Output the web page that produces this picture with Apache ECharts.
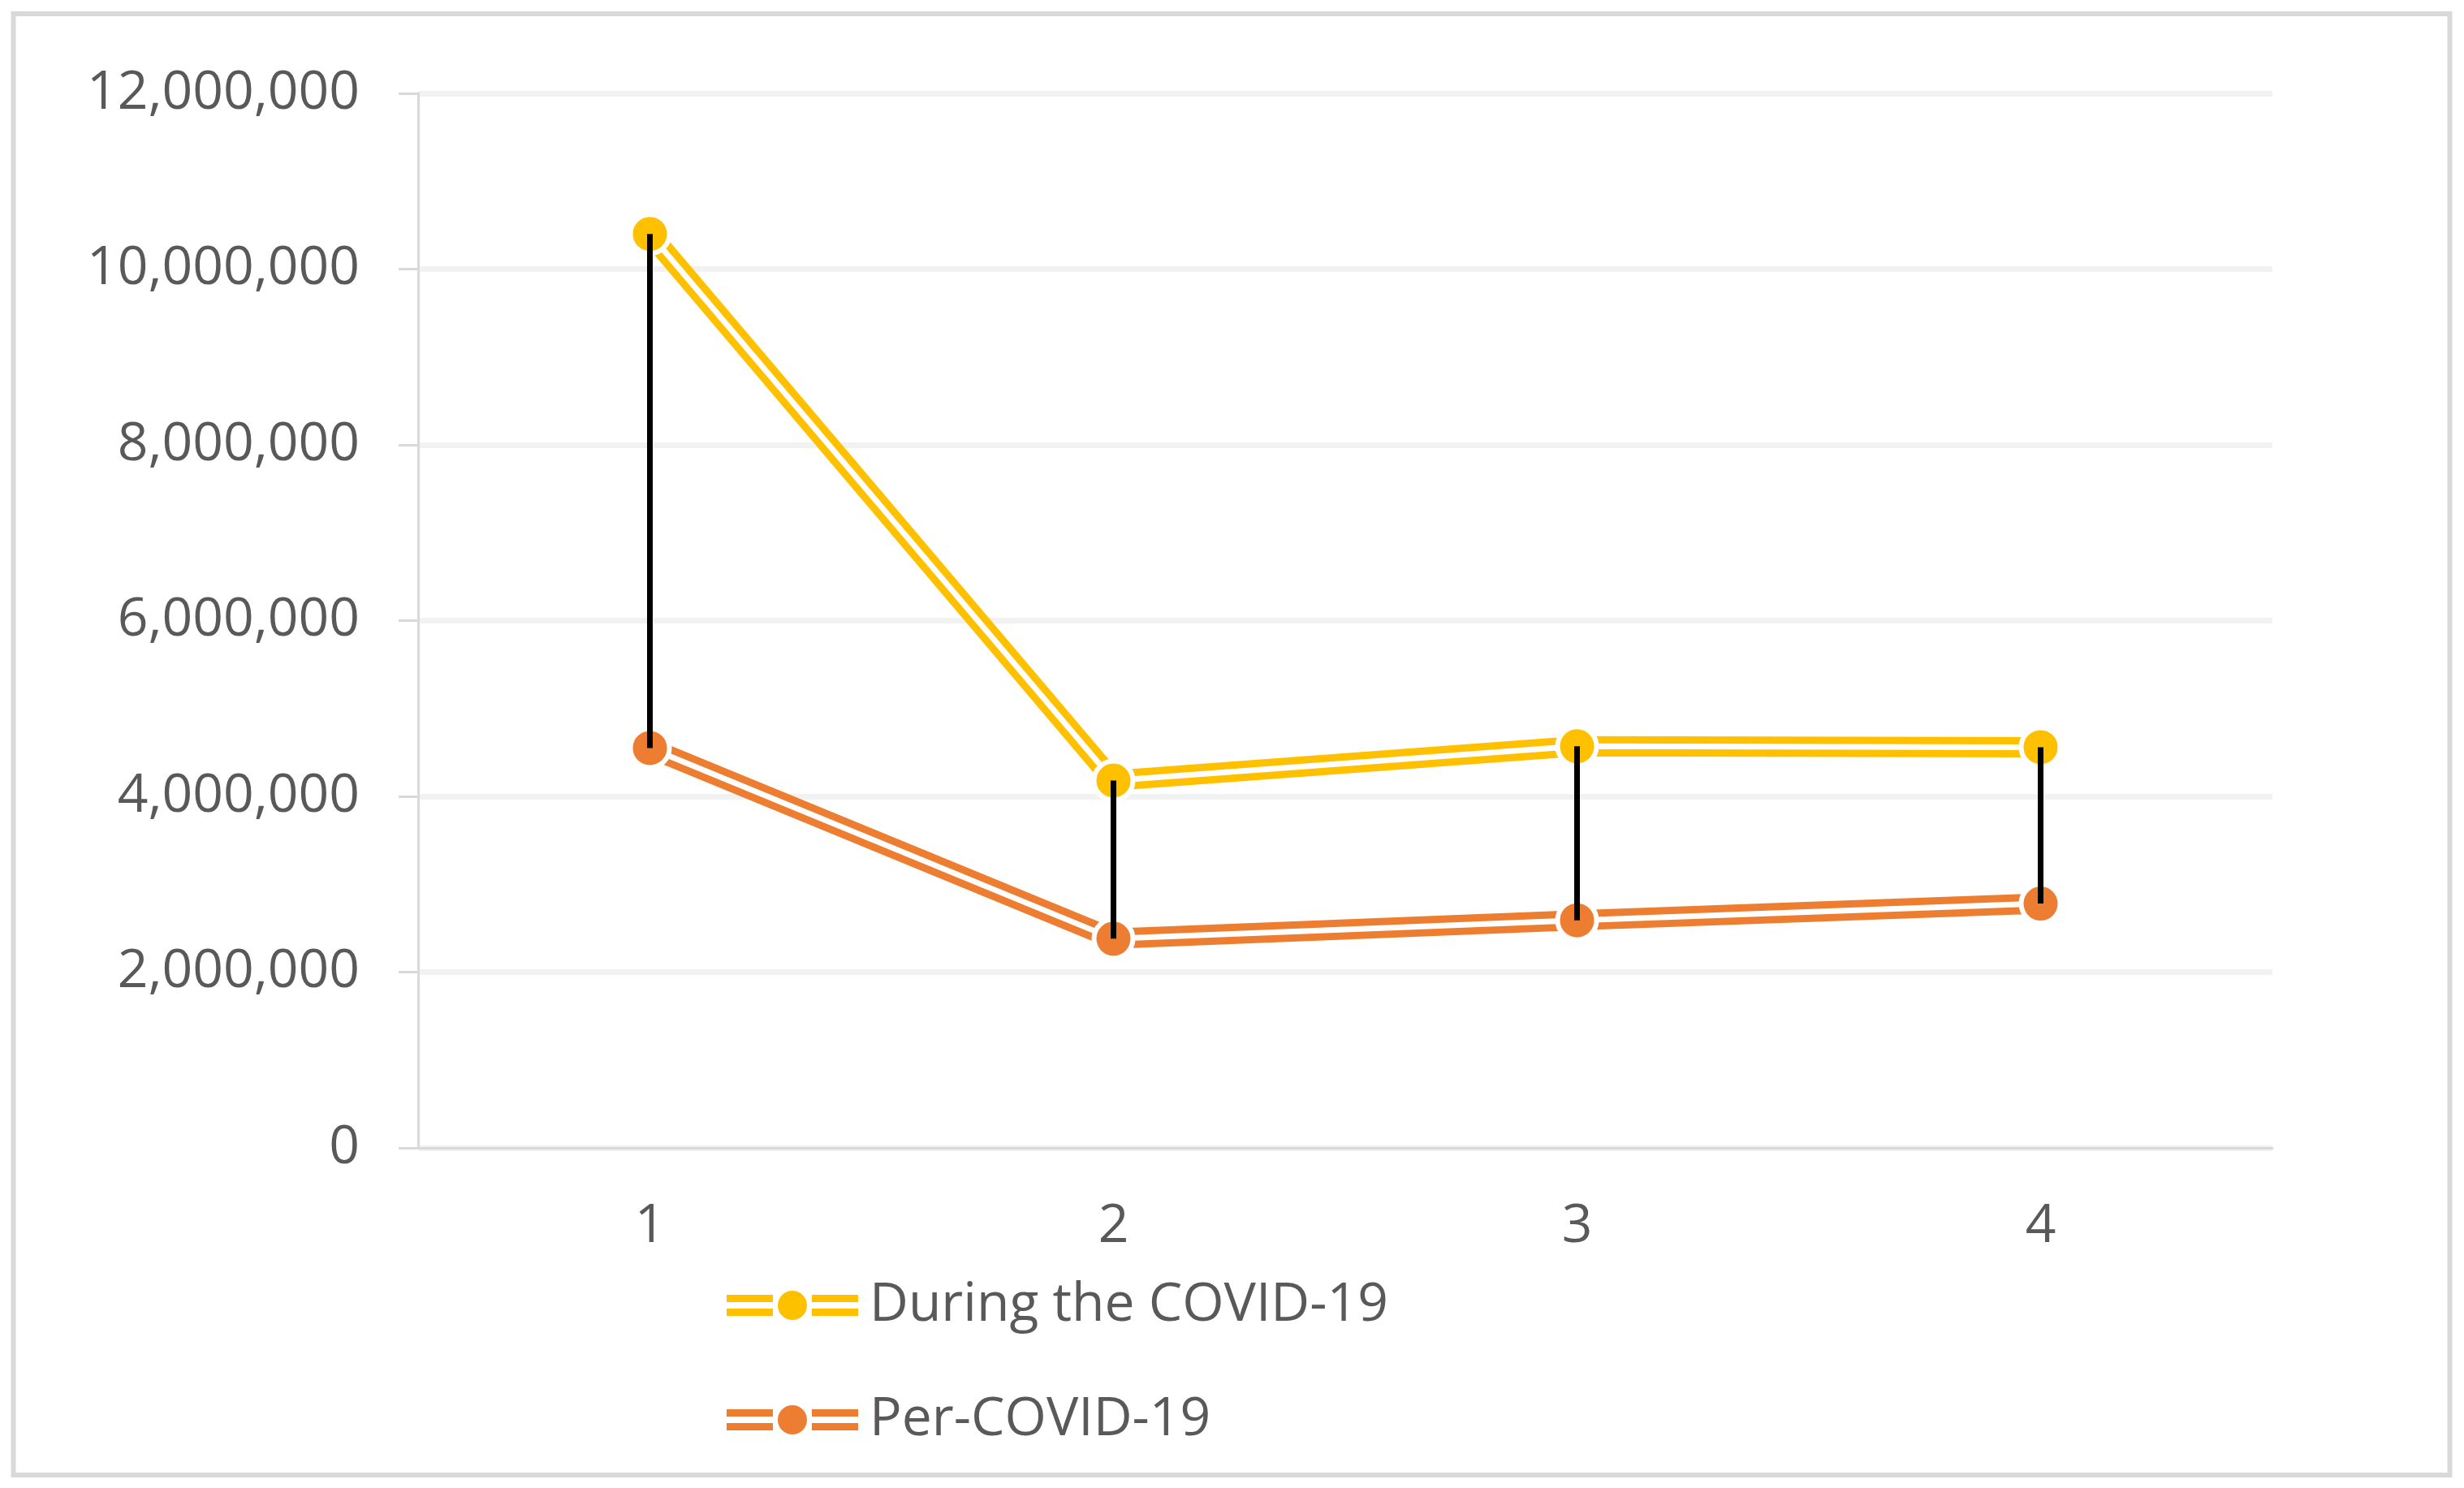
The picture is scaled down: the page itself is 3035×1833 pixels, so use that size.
<!DOCTYPE html>
<html>
<head>
<meta charset="utf-8">
<script src="https://cdn.jsdelivr.net/npm/echarts@6/dist/echarts.min.js"></script>
<style>
html,body{margin:0;padding:0;background:#fff;}
#chart{width:3035px;height:1833px;}
</style>
</head>
<body>
<div id="chart"></div>
<script>
const categories = ['1', '2', '3', '4'];
const duringCovid = [10400000, 4180000, 4570000, 4560000];
const perCovid = [4550000, 2380000, 2590000, 2780000];
const yTicks = { min: 0, max: 12000000, interval: 2000000 };
const seriesNames = ['During the COVID-19', 'Per-COVID-19'];

const YELLOW = '#FFC000';
const ORANGE = '#ED7D31';
const TEXT = '#595959';
const FONT = "'Open Sans', 'Liberation Sans', sans-serif";

const hiLo = categories.map((c, i) => [i, duringCovid[i], perCovid[i]]);

const legendIcon = 'path://M0 5H57V14H0Z M0 22H57V31H0Z M105 5H162V14H105Z M105 22H162V31H105Z M63 18A18 18 0 1 0 99 18A18 18 0 1 0 63 18Z';

function bandSeries(name, data, color) {
  return {
    name: name, type: 'line', data: data, symbol: 'none', z: 2,
    lineStyle: { color: color, width: 25, join: 'round' },
    itemStyle: { color: color },
    silent: true
  };
}
function coreSeries(name, data, color) {
  return {
    name: name, type: 'line', data: data, z: 3,
    symbol: 'circle', symbolSize: 48, showSymbol: true,
    lineStyle: { color: '#ffffff', width: 7, join: 'round' },
    itemStyle: { color: color, borderColor: '#ffffff', borderWidth: 6 },
    silent: true
  };
}

const chart = echarts.init(document.getElementById('chart'), null, { renderer: 'canvas' });
const legendBase = {
  orient: 'vertical', left: 890, icon: legendIcon,
  itemWidth: 162, itemHeight: 36,
  itemStyle: { borderWidth: 0 },
  textStyle: { color: TEXT, fontSize: 66, fontFamily: FONT, lineHeight: 66, padding: [0, 0, 0, 9] },
  selectedMode: false
};
chart.setOption({
  animation: false,
  backgroundColor: '#ffffff',
  graphic: [{
    type: 'rect', silent: true,
    shape: { x: 16.5, y: 17, width: 3001, height: 1800 },
    style: { fill: 'none', stroke: '#d9d9d9', lineWidth: 6 }
  }],
  grid: { left: 515, right: 236, top: 115, bottom: 419, containLabel: false },
  legend: [
    Object.assign({}, legendBase, { data: [seriesNames[0]], top: 1570 }),
    Object.assign({}, legendBase, { data: [seriesNames[1]], top: 1711 })
  ],
  xAxis: {
    type: 'category', data: categories, boundaryGap: true,
    axisLine: { show: true, lineStyle: { color: '#d9d9d9', width: 3 } },
    axisTick: { show: false },
    axisLabel: { color: TEXT, fontSize: 66, fontFamily: FONT, margin: 64 },
    splitLine: { show: false }
  },
  yAxis: {
    type: 'value', min: yTicks.min, max: yTicks.max, interval: yTicks.interval,
    axisLine: { show: true, lineStyle: { color: '#d9d9d9', width: 3 } },
    axisTick: { show: true, inside: false, length: 24, lineStyle: { color: '#d9d9d9', width: 3 } },
    axisLabel: {
      color: TEXT, fontSize: 66, fontFamily: FONT, margin: 72,
      formatter: v => v.toLocaleString('en-US')
    },
    splitLine: { show: true, lineStyle: { color: '#f2f2f2', width: 7 } }
  },
  series: [
    bandSeries(seriesNames[0], duringCovid, YELLOW),
    bandSeries(seriesNames[1], perCovid, ORANGE),
    coreSeries('_core0', duringCovid, YELLOW),
    coreSeries('_core1', perCovid, ORANGE),
    {
      name: '_hilo', type: 'custom', z: 5, silent: true,
      data: hiLo,
      renderItem: function (params, api) {
        const p1 = api.coord([api.value(0), api.value(1)]);
        const p2 = api.coord([api.value(0), api.value(2)]);
        return {
          type: 'line',
          shape: { x1: p1[0], y1: p1[1], x2: p2[0], y2: p2[1] },
          style: { stroke: '#000000', lineWidth: 7 }
        };
      }
    }
  ]
});
</script>
</body>
</html>
